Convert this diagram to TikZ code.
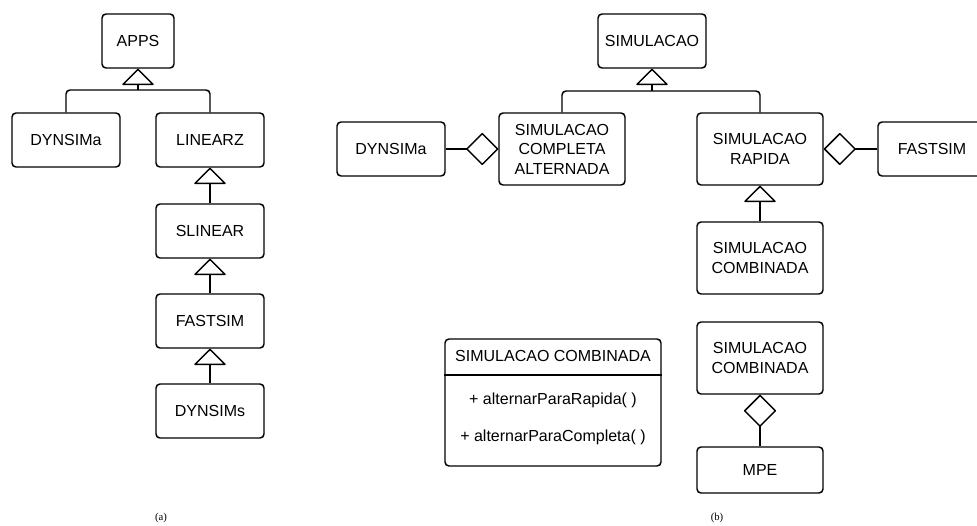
\documentclass[tikz,border=0pt]{standalone}
\usepackage{fontspec}
\setmainfont{Liberation Sans}
\newfontfamily\capfont{Liberation Serif}
\usetikzlibrary{arrows.meta}
\begin{document}
\begin{tikzpicture}[x=0.75pt,y=-0.75pt,
  line width=1.1pt, line join=round,
  box/.style={draw, rounded corners=3pt, align=center, inner sep=0pt,
    font=\fontsize{12}{14.6}\selectfont, minimum width=81pt, minimum height=40.5pt},
  wide/.style={minimum width=94.5pt, minimum height=54pt},
  txt/.style={inner sep=0pt, font=\fontsize{12}{14.6}\selectfont},
  inh/.style={-{Triangle[open, round, length=12.5pt, width=25pt]}},
  agg/.style={-{Diamond[open, round, length=24.5pt, width=24.5pt]}},
  capt/.style={inner sep=0pt, font=\capfont\fontsize{8}{9}\selectfont}]
\useasboundingbox (0,0) rectangle (977,525);

% ---------- (a) ----------
\node[box, minimum width=54pt] (apps) at (138,41) {APPS};
\node[box] (dynA) at (66,140) {DYNSIMa};
\node[box] (linz) at (210,140) {LINEARZ};
\node[box] (slin) at (210,231) {SLINEAR};
\node[box] (fstA) at (210,321) {FASTSIM};
\node[box] (dyns) at (210,411) {DYNSIMs};
\coordinate (jA) at (138,90);
\draw[rounded corners=3pt] (dynA.north) |- (jA) -| (linz.north);
\draw[inh] (jA) -- (apps.south);
\draw[inh] (slin.north) -- (linz.south);
\draw[inh] (fstA.north) -- (slin.south);
\draw[inh] (dyns.north) -- (fstA.south);
\node[capt] (capa) at (161,518) {(a)};

% ---------- (b) ----------
\node[box] (sim) at (652,41) {SIMULACAO};
\node[box, wide] (sca) at (562,149) {SIMULACAO\\COMPLETA\\ALTERNADA};
\node[box] (dynB) at (391,149) {DYNSIMa};
\node[box, wide] (sr) at (760,149) {SIMULACAO\\RAPIDA};
\node[box] (fstB) at (932,149) {FASTSIM};
\node[box, wide] (sc1) at (760,258) {SIMULACAO\\COMBINADA};
\node[box, wide] (sc2) at (760,358) {SIMULACAO\\COMBINADA};
\node[box, wide, minimum height=34.5pt] (mpe) at (760,470) {MPE};
\coordinate (jB) at (652,91);
\draw[rounded corners=3pt] (sca.north) |- (jB) -| (sr.north);
\draw[inh] (jB) -- (sim.south);
\draw[agg] (dynB.east) -- (sca.west);
\draw[agg] (fstB.west) -- (sr.east);
\draw[inh] (sc1.north) -- (sr.south);
\draw[agg] (mpe.north) -- (sc2.south);

% class box
\node[draw, rounded corners=3pt, inner sep=0pt, minimum width=162pt, minimum height=95.25pt] (cls) at (553,402.5) {};
\draw (cls.west |- 0,375) coordinate (dl) -- (cls.east |- 0,375) coordinate (dr);
\node[txt] (ct) at (553,356) {SIMULACAO COMBINADA};
\node[txt] (m1) at (553,400) {+ alternarParaRapida( )};
\node[txt] (m2) at (553,437) {+ alternarParaCompleta( )};
\node[capt] (capb) at (717,518) {(b)};
\end{tikzpicture}
\end{document}
